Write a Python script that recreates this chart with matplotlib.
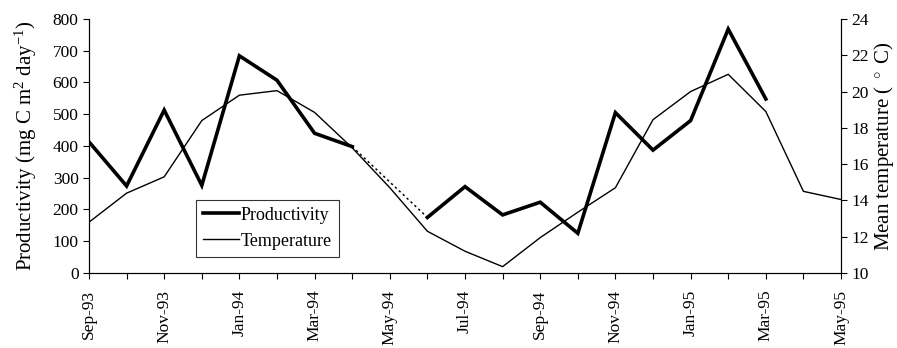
import matplotlib
matplotlib.use("Agg")
import matplotlib.pyplot as plt
import numpy as np

plt.rcParams["font.family"] = "Liberation Serif"
plt.rcParams["mathtext.fontset"] = "custom"
plt.rcParams["mathtext.rm"] = "Liberation Serif"
plt.rcParams["mathtext.it"] = "Liberation Serif:italic"

# Monthly series, Sep-93 .. May-95
meses = ["Sep-93", "Oct-93", "Nov-93", "Dec-93", "Jan-94", "Feb-94", "Mar-94",
         "Apr-94", "May-94", "Jun-94", "Jul-94", "Aug-94", "Sep-94", "Oct-94",
         "Nov-94", "Dec-94", "Jan-95", "Feb-95", "Mar-95", "Apr-95", "May-95"]

# Productividad (mg C m2 dia-1); sin dato en May-94, Apr-95, May-95
productividad = [413, 274, 513, 276, 684, 607, 440, 398, np.nan, 175, 272,
                 183, 223, 125, 505, 387, 480, 768, 548, np.nan, np.nan]

# Temperatura media (°C)
temperatura = [12.8, 14.4, 15.3, 18.4, 19.8, 20.05, 18.85, 16.9, 14.7, 12.3,
               11.2, 10.35, 11.95, 13.35, 14.7, 18.45, 20.0, 20.95, 18.9,
               14.5, 14.05]

x = np.arange(len(meses))

fig = plt.figure(figsize=(8.97, 3.48), dpi=100)
ax = fig.add_axes([0.0992, 0.2155, 0.8384, 0.73])
ax2 = ax.twinx()

# temperatura en el eje derecho
l2, = ax2.plot(x, temperatura, color="black", lw=1.0)
ax2.set_ylim(10, 24)
ax2.set_yticks(np.arange(10, 25, 2))

# productividad, con tramo punteado sobre el mes que falta
l1, = ax.plot(x, productividad, color="black", lw=2.6, solid_joinstyle="miter")
ax.plot([7, 9], [productividad[7], productividad[9]], color="black", lw=1.1,
        ls=(0, (1.5, 2)))
ax.set_zorder(ax2.get_zorder() + 1)
ax.patch.set_visible(False)

ax.set_ylim(0, 800)
ax.set_yticks(np.arange(0, 801, 100))
ax.set_xlim(0, len(meses) - 1)
ax.set_xticks(x)
ax.set_xticklabels([m if i % 2 == 0 else "" for i, m in enumerate(meses)],
                   rotation=90)

for a in (ax, ax2):
    a.spines["top"].set_visible(False)
    a.tick_params(labelsize=12.5, length=4, width=0.8)
ax.tick_params(axis="x", pad=8)

ax.set_ylabel("Productivity (mg C m$^2$ day$^{-1}$)", fontsize=15, labelpad=10)
ax2.set_ylabel("Mean temperature ( $^\\circ$ C)", fontsize=15, labelpad=2)

leg = ax.legend([l1, l2], ["Productivity", "Temperature"], loc="lower left",
                bbox_to_anchor=(0.142, 0.063), borderaxespad=0, fontsize=13,
                frameon=True, fancybox=False, edgecolor="black",
                handlelength=2.0, handletextpad=0.1, borderpad=0.4,
                labelspacing=0.5)
leg.get_frame().set_linewidth(0.8)

fig.savefig("out.png", dpi=100)
